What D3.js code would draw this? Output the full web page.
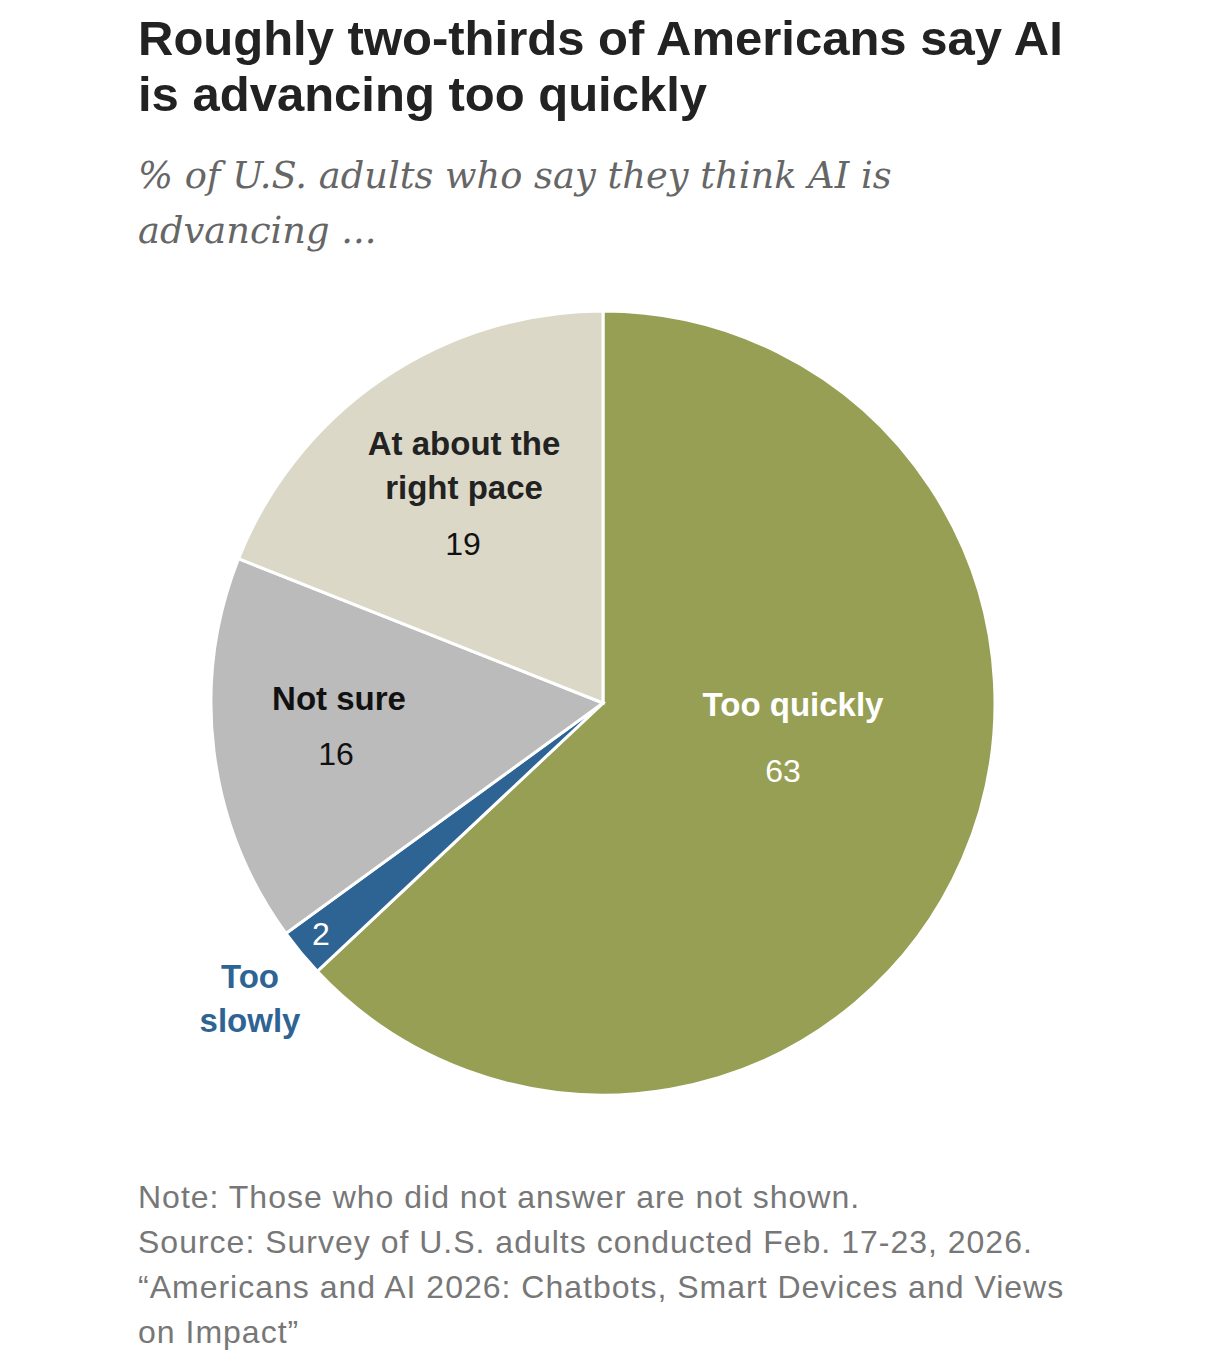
<!DOCTYPE html>
<html>
<head>
<meta charset="utf-8">
<script src="https://d3js.org/d3.v7.min.js"></script>
<style>
  body { margin: 0; background: #fff; }
</style>
</head>
<body>
<script>
// data
var categories = ["Too quickly", "Too slowly", "Not sure", "At about the right pace"];
var values = [63, 2, 16, 19];
var labelLines = [["Too quickly"], ["Too", "slowly"], ["Not sure"], ["At about the", "right pace"]];
var colors = ["#979f55", "#2e6494", "#bbbbbb", "#dcd8c8"];

var width = 1206, height = 1365;
var cx = 603, cy = 703, radius = 392;

var svg = d3.select("body").append("svg")
  .attr("width", width)
  .attr("height", height);

// title
var title = svg.append("text")
  .attr("font-family", "'Liberation Sans Narrow', 'Arial Narrow', 'Liberation Sans', sans-serif")
  .attr("font-weight", "bold")
  .attr("font-size", 49)
  .attr("fill", "#222");
title.append("tspan").attr("x", 138).attr("y", 55).text("Roughly two-thirds of Americans say AI");
title.append("tspan").attr("x", 138).attr("y", 111).text("is advancing too quickly");

var sub = svg.append("text")
  .attr("font-family", "'DejaVu Serif', Georgia, serif")
  .attr("font-style", "italic")
  .attr("font-size", 36.8)
  .attr("fill", "#666");
sub.append("tspan").attr("x", 138).attr("y", 188).text("% of U.S. adults who say they think AI is");
sub.append("tspan").attr("x", 138).attr("y", 243).text("advancing ...");

// pie
var pie = d3.pie().sort(null).value(function(d) { return d; });
var arc = d3.arc().innerRadius(0).outerRadius(radius);
var arcs = pie(values);

var g = svg.append("g").attr("transform", "translate(" + cx + "," + cy + ")");

g.selectAll("path")
  .data(arcs)
  .enter()
  .append("path")
  .attr("d", arc)
  .attr("fill", function(d, i) { return colors[i]; })
  .attr("stroke", "#fff")
  .attr("stroke-width", 3);

// label anchors, relative to pie center (layout only)
var labelPos = [
  {x: 190, y: 13, nx: 180, ny: 79, nameColor: "#fff", numColor: "#fff"},
  {x: -353, y: 285, nx: -282, ny: 242, nameColor: "#2e6494", numColor: "#fff"},
  {x: -264, y: 7, nx: -267, ny: 62, nameColor: "#111", numColor: "#111"},
  {x: -139, y: -248, nx: -140, ny: -148, nameColor: "#222", numColor: "#111"}
];

arcs.forEach(function(d, i) {
  var p = labelPos[i];
  var t = g.append("text")
    .attr("text-anchor", "middle")
    .attr("font-family", "'Liberation Sans', Arial, sans-serif")
    .attr("font-weight", "bold")
    .attr("font-size", 33)
    .attr("fill", p.nameColor);
  labelLines[i].forEach(function(line, j) {
    t.append("tspan").attr("x", p.x).attr("y", p.y + j * 44).text(line);
  });
  g.append("text")
    .attr("x", p.nx)
    .attr("y", p.ny)
    .attr("text-anchor", "middle")
    .attr("font-family", "'Liberation Sans', Arial, sans-serif")
    .attr("font-size", 32)
    .attr("fill", p.numColor)
    .text(d.data);
});

// notes
var notes = [
  "Note: Those who did not answer are not shown.",
  "Source: Survey of U.S. adults conducted Feb. 17-23, 2026.",
  "\u201cAmericans and AI 2026: Chatbots, Smart Devices and Views",
  "on Impact\u201d"
];
svg.append("g").selectAll("text")
  .data(notes)
  .enter()
  .append("text")
  .attr("x", 138)
  .attr("y", function(d, i) { return 1208 + i * 45; })
  .attr("font-family", "'Liberation Sans Narrow', 'Arial Narrow', 'Liberation Sans', sans-serif")
  .attr("font-size", 32)
  .attr("letter-spacing", 1)
  .attr("fill", "#777")
  .text(function(d) { return d; });
</script>
</body>
</html>
